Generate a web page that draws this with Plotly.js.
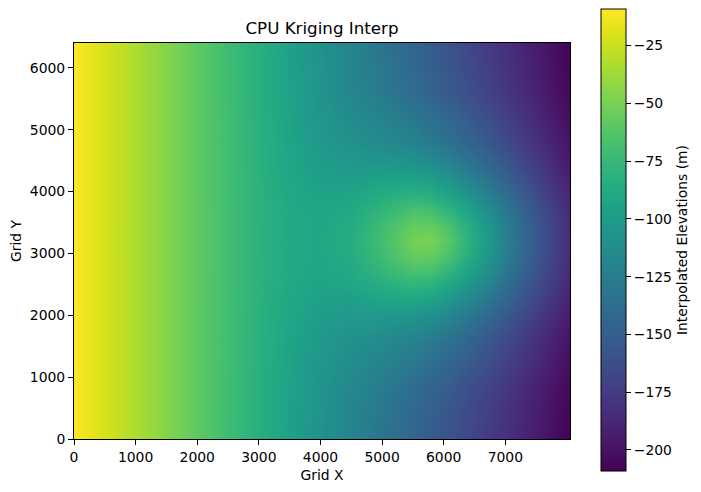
<!DOCTYPE html>
<html>
<head>
<meta charset="utf-8">
<script src="https://cdn.plot.ly/plotly-3.0.1.min.js"></script>
<style>html,body{margin:0;padding:0;background:#fff;}#chart{width:701px;height:492px;}</style>
</head>
<body>
<div id="chart"></div>
<script>
// Grid coordinates (m)
const gridX = [0, 1000, 2000, 3000, 3500, 4000, 4500, 5000, 5500, 5800, 6100, 6400, 6700, 7000, 7500, 8050];
const gridY = [0, 800, 1600, 2000, 2400, 2700, 2950, 3200, 3450, 3700, 4000, 4400, 4800, 5600, 6400];

// Interpolated elevations (m), one row per gridY value
const rowEdge  = [-9.0, -33.8, -58.7, -83.4, -95.8, -107.9, -120.0, -132.0, -144.1, -151.6, -159.1, -166.6, -174.2, -181.7, -194.4, -208.6];
const rowOuter = [-9.0, -33.8, -58.7, -83.1, -95.0, -106.3, -117.1, -127.6, -138.6, -145.9, -153.5, -161.3, -169.3, -177.4, -191.1, -206.2];
const rowFar   = [-9.0, -33.8, -58.6, -82.3, -93.1, -101.9, -108.6, -114.0, -120.9, -127.3, -135.3, -144.2, -154.0, -164.1, -181.5, -200.1];
const rowMid   = [-9.0, -33.8, -58.6, -81.8, -91.7, -98.6, -101.7, -102.0, -104.4, -110.0, -118.4, -128.6, -140.2, -152.5, -173.5, -195.3];
const rowNear  = [-9.0, -33.8, -58.5, -81.3, -90.2, -95.0, -93.9, -87.7, -83.5, -87.4, -96.7, -108.9, -123.3, -138.7, -164.3, -190.0];
const rowClose = [-9.0, -33.8, -58.5, -81.0, -89.3, -92.7, -88.8, -77.6, -67.2, -69.4, -79.5, -93.9, -111.0, -129.0, -158.2, -186.6];
const rowInner = [-9.0, -33.8, -58.5, -80.8, -88.8, -91.5, -86.0, -71.7, -56.2, -56.3, -67.6, -84.3, -103.6, -123.3, -154.8, -184.8];
const rowCore  = [-9.2, -33.8, -58.5, -80.8, -88.7, -91.1, -85.0, -69.5, -51.7, -49.1, -62.4, -80.5, -100.7, -121.2, -153.5, -184.1];

const elev = [rowEdge, rowOuter, rowFar, rowMid, rowNear, rowClose, rowInner, rowCore,
              rowInner, rowClose, rowNear, rowMid, rowFar, rowOuter, rowEdge];

const xTicks = [0, 1000, 2000, 3000, 4000, 5000, 6000, 7000];
const yTicks = [0, 1000, 2000, 3000, 4000, 5000, 6000];
const cbTicks = [-200, -175, -150, -125, -100, -75, -50, -25];
const zMin = -209.1, zMax = -9.2;

const F = 'DejaVu Sans, Arial, sans-serif';
const trace = {
  type: 'heatmap', x: gridX, y: gridY, z: elev,
  zsmooth: 'best', colorscale: 'Viridis', zmin: zMin, zmax: zMax,
  hoverinfo: 'skip',
  colorbar: {
    x: 1.0604, xanchor: 'left', xpad: 0, ypad: 0,
    y: 0.5025, yanchor: 'middle', len: 462, lenmode: 'pixels',
    thickness: 25, thicknessmode: 'pixels',
    outlinewidth: 1, outlinecolor: '#000',
    tickvals: cbTicks, ticks: 'outside', ticklen: 5, tickwidth: 1, tickcolor: '#000',
    tickfont: {family: F, size: 13.9, color: '#000'},
    title: {text: 'Interpolated Elevations (m)', side: 'right', font: {family: F, size: 13.9, color: '#000'}}
  }
};
const axisCommon = {
  showgrid: false, zeroline: false, showline: true, mirror: true,
  linecolor: '#000', linewidth: 1, ticks: 'outside', ticklen: 5, tickwidth: 1, tickcolor: '#000',
  tickfont: {family: F, size: 13.9, color: '#000'}
};
const layout = {
  width: 701, height: 492,
  margin: {l: 74, r: 130, t: 43, b: 53, pad: 0},
  paper_bgcolor: '#fff', plot_bgcolor: '#fff',
  title: {text: 'CPU Kriging Interp', x: 0.5, xref: 'paper', y: 1 - 28/492, yref: 'container', yanchor: 'middle',
          font: {family: F, size: 16.7, color: '#000'}},
  xaxis: Object.assign({}, axisCommon, {range: [0, 8050], tickvals: xTicks,
          title: {text: 'Grid X', font: {family: F, size: 13.9, color: '#000'}, standoff: 6}}),
  yaxis: Object.assign({}, axisCommon, {range: [0, 6400], tickvals: yTicks,
          title: {text: 'Grid Y', font: {family: F, size: 13.9, color: '#000'}, standoff: 4}}),
  showlegend: false
};
Plotly.newPlot('chart', [trace], layout, {staticPlot: true, displayModeBar: false});
</script>
</body>
</html>
